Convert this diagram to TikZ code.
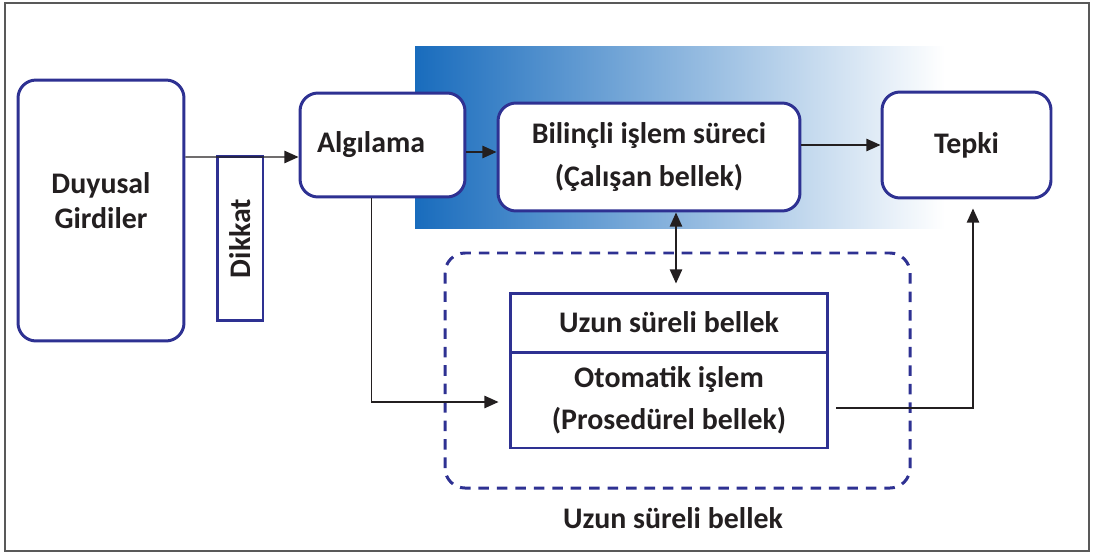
\documentclass[tikz,border=0pt]{standalone}
\usepackage{fontspec}
\setmainfont{Carlito}
\usetikzlibrary{arrows.meta}
\definecolor{boxblue}{RGB}{46,49,146}
\definecolor{gradblue}{RGB}{25,108,189}
\definecolor{txtgray}{RGB}{35,31,32}

\begin{document}
\begin{tikzpicture}[x=0.02cm, y=-0.02cm,
  every node/.style={font=\bfseries\fontsize{17}{24}\selectfont, text=txtgray, align=center},
  roundbox/.style={draw=boxblue, line width=1.7pt, rounded corners=0.36cm, fill=white, inner sep=0pt},
  flatbox/.style={draw=boxblue, line width=1.7pt, fill=white, inner sep=0pt},
  conn/.style={draw=txtgray, line width=0.8pt, -{Triangle[length=8pt,width=7pt]}}]

\useasboundingbox (0,0) rectangle (1094,554);

% Outer frame and blue band
\draw[gray!70!black, line width=1.2pt] (5,3) rectangle (1089,551);
\shade[left color=gradblue, right color=white] (415,47) rectangle (945,228);

% Dashed long-term memory region
\draw[boxblue, line width=1.7pt, dash pattern=on 6pt off 4.5pt, rounded corners=0.4cm] (445,253) rectangle (910,488);
\node (caption) at (673,518) {Uzun süreli bellek};

% Main boxes
\node[roundbox, minimum width=3.32cm, minimum height=5.22cm, text depth=0.4cm,
      font=\bfseries\fontsize{17}{19.5}\selectfont] (duyu) at (101,210.5) {Duyusal\\Girdiler};
\node[flatbox, rotate=90, minimum width=3.3cm, minimum height=0.92cm] (dikkat) at (240,238.5) {Dikkat};
\node[roundbox, minimum width=3.3cm, minimum height=2.08cm, text width=2.62cm, align=left, inner xsep=0.34cm] (algi) at (382.5,145) {Algılama};
\node[roundbox, minimum width=6.04cm, minimum height=2.16cm] (bilinc) at (649,157) {Bilinçli işlem süreci\\(Çalışan bellek)};
\node[roundbox, minimum width=3.38cm, minimum height=2.12cm] (tepki) at (966.5,145) {Tepki};

% Memory boxes
\node[flatbox, minimum width=6.36cm, minimum height=1.18cm] (ltm) at (669,322.5) {Uzun süreli bellek};
\node[flatbox, minimum width=6.36cm, minimum height=1.92cm] (otom) at (669,400) {Otomatik işlem\\(Prosedürel bellek)};

% Connectors
\draw[conn] (duyu.east |- 0,157) -- ([yshift=-0.24cm]algi.west);
\draw[conn] ([yshift=-0.14cm]algi.east) -- ([yshift=-0.14cm]algi.east -| bilinc.west);
\draw[conn] (bilinc.east |- tepki.west) -- (tepki.west);
\draw[conn, {Triangle[length=8pt,width=7pt]}-{Triangle[length=8pt,width=7pt]}, shorten >=0.16cm] ([xshift=0.54cm]bilinc.south) -- ([xshift=0.54cm]bilinc.south |- ltm.north);
\draw[conn, shorten >=0.2cm] ([xshift=-0.22cm]algi.south) |- ([yshift=-0.04cm]otom.west);
\draw[conn, shorten <=0.14cm, shorten >=0.18cm] ([yshift=-0.16cm]otom.east) -| ([xshift=0.13cm]tepki.south);

\end{tikzpicture}
\end{document}
